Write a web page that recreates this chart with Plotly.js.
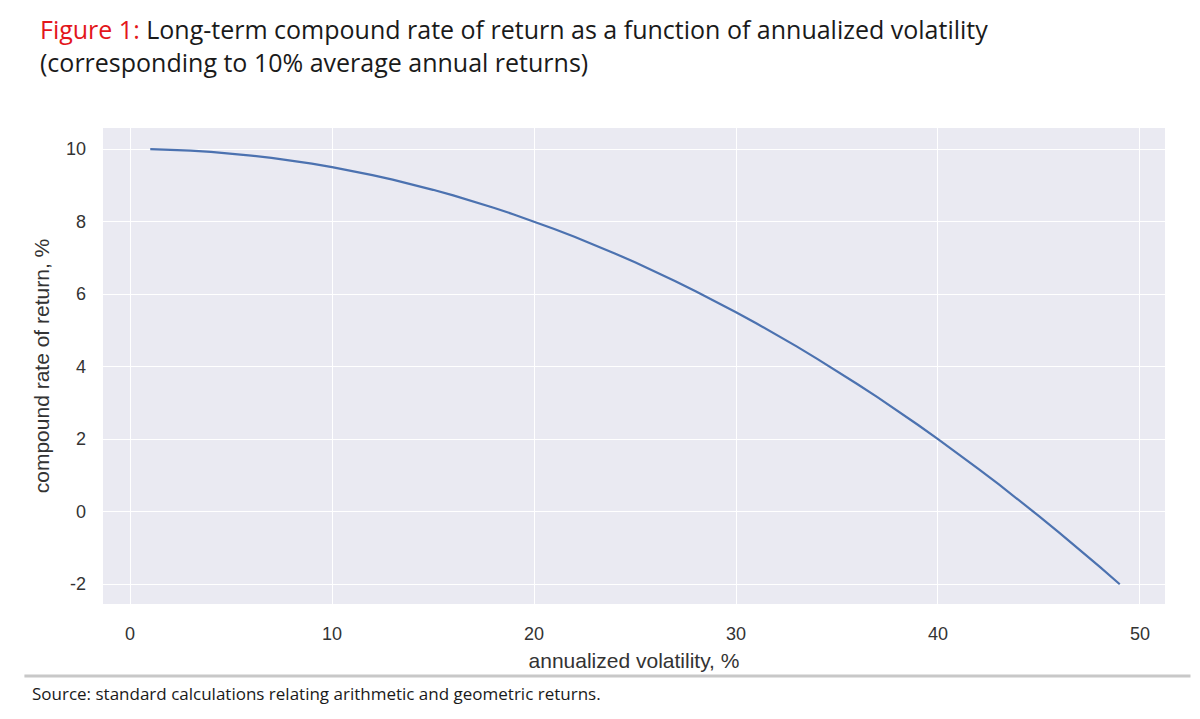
<!DOCTYPE html>
<html>
<head>
<meta charset="utf-8">
<script src="https://cdn.plot.ly/plotly-3.0.1.min.js"></script>
<style>
  html, body { margin: 0; padding: 0; background: #fff; }
  #chart { width: 1200px; height: 719px; }
</style>
</head>
<body>
<div id="chart"></div>
<script>
// annualized volatility, %
const volatility = [1,2,3,4,5,6,7,8,9,10,11,12,13,14,15,16,17,18,19,20,21,22,23,24,25,26,27,28,29,30,31,32,33,34,35,36,37,38,39,40,41,42,43,44,45,46,47,48,49];
// compound rate of return, %
const compoundReturn = [9.995,9.98,9.955,9.92,9.875,9.82,9.755,9.68,9.595,9.5,9.395,9.28,9.155,9.02,8.875,8.72,8.555,8.38,8.195,8.0,7.795,7.58,7.355,7.12,6.875,6.62,6.355,6.08,5.795,5.5,5.195,4.88,4.555,4.22,3.875,3.52,3.155,2.78,2.395,2.0,1.595,1.18,0.755,0.32,-0.125,-0.58,-1.045,-1.52,-2.005];
const xTicks = [0,10,20,30,40,50];
const yTicks = [-2,0,2,4,6,8,10];

const titleText = '<span style="color:#e3161b">Figure 1:</span> Long-term compound rate of return as a function of annualized volatility<br>(corresponding to 10% average annual returns)';
const sourceText = 'Source: standard calculations relating arithmetic and geometric returns.';

const trace = {
  x: volatility,
  y: compoundReturn,
  type: 'scatter',
  mode: 'lines',
  line: { color: '#4c72b0', width: 2.2 },
  hoverinfo: 'x+y'
};

const titleFont = { family: 'Open Sans, Lato, sans-serif', size: 25, color: '#1a1a1a' };
const tickFont = { family: 'Liberation Sans, Arial, sans-serif', size: 18, color: '#333333' };
const axTitleFont = { family: 'Liberation Sans, Arial, sans-serif', size: 21, color: '#333333' };

const layout = {
  width: 1200,
  height: 719,
  paper_bgcolor: '#ffffff',
  plot_bgcolor: '#eaeaf2',
  margin: { l: 103, r: 35, t: 128, b: 115 },
  showlegend: false,
  xaxis: {
    range: [-1.34, 51.24],
    tickvals: xTicks,
    ticktext: xTicks.map(String),
    showgrid: true,
    gridcolor: '#ffffff',
    gridwidth: 1.2,
    zeroline: false,
    showline: false,
    ticks: '',
    ticklabelstandoff: 17,
    tickfont: tickFont,
    title: { text: 'annualized volatility, %', font: axTitleFont, standoff: 10 }
  },
  yaxis: {
    range: [-2.55, 10.58],
    tickvals: yTicks,
    ticktext: yTicks.map(String),
    showgrid: true,
    gridcolor: '#ffffff',
    gridwidth: 1.2,
    zeroline: false,
    showline: false,
    ticks: '',
    ticklabelstandoff: 16,
    tickfont: tickFont,
    title: { text: 'compound rate of return, %', font: axTitleFont, standoff: 10 }
  },
  annotations: [
    {
      text: titleText,
      xref: 'paper', yref: 'paper',
      x: -0.0612, y: 1.174,
      xanchor: 'left', yanchor: 'middle',
      align: 'left',
      showarrow: false,
      font: titleFont
    },
    {
      text: sourceText,
      xref: 'paper', yref: 'paper',
      x: -0.0687, y: -0.189,
      xanchor: 'left', yanchor: 'middle',
      showarrow: false,
      font: { family: 'Open Sans, Lato, sans-serif', size: 17, color: '#1a1a1a' }
    }
  ],
  shapes: [
    {
      type: 'line', xref: 'paper', yref: 'paper',
      x0: -0.074, x1: 1.024, y0: -0.151, y1: -0.151,
      line: { color: '#c8c8c8', width: 3 }
    }
  ]
};

Plotly.newPlot('chart', [trace], layout, { displayModeBar: false, responsive: false });
</script>
</body>
</html>
